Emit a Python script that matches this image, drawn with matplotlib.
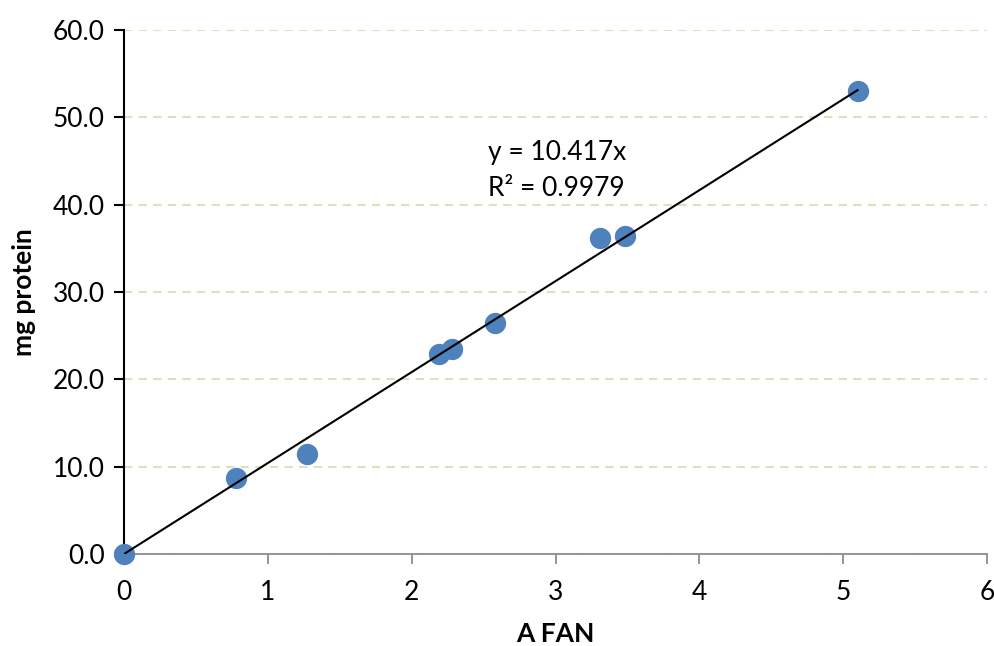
import matplotlib.pyplot as plt

# data
a_fan = [0, 0.78, 1.27, 2.19, 2.28, 2.58, 3.31, 3.48, 5.10]
mg_protein = [0.0, 8.7, 11.45, 22.9, 23.45, 26.4, 36.2, 36.4, 53.0]
slope = 10.417
r2 = 0.9979

plt.rcParams['font.family'] = ['Lato', 'DejaVu Sans']

fig = plt.figure(figsize=(9.95, 6.46), dpi=100)
ax = fig.add_axes([0.1246, 0.1424, 0.8674, 0.811])

ax.set_xlim(0, 6)
ax.set_ylim(0, 60)
ax.set_yticks(range(0, 61, 10))
ax.set_yticklabels([f'{v:.1f}' for v in range(0, 61, 10)])
ax.set_xticks(range(0, 7))

ax.grid(axis='y', color='#D7E4BD', linestyle=(0, (4, 3)), linewidth=1.5)
ax.set_axisbelow(True)

ax.scatter(a_fan, mg_protein, s=205, color='#4F81BD', zorder=3, clip_on=False)
xs = [0, max(a_fan)]
ax.plot(xs, [slope * x for x in xs], color='black', linewidth=1.5, zorder=4)

# trendline equation
ax.text(2.53, 46.0, f'y = {slope}x', fontsize=19, va='center', ha='left')
ax.text(2.53, 41.9, f'R² = {r2}', fontsize=19, va='center', ha='left')

for s in ['top', 'right']:
    ax.spines[s].set_visible(False)
ax.spines['left'].set_color('black')
ax.spines['left'].set_linewidth(1.5)
ax.spines['bottom'].set_color('#8C8C8C')
ax.spines['bottom'].set_linewidth(1.3)
ax.tick_params(axis='y', direction='out', length=7, width=1.5, colors='black',
               labelsize=19, pad=7)
ax.tick_params(axis='x', direction='out', length=7, width=1.3, color='#8C8C8C',
               labelcolor='black', labelsize=19, pad=12)

ax.set_xlabel('A FAN', fontsize=19, fontweight='bold', labelpad=12)
ax.set_ylabel('mg protein', fontsize=19, fontweight='bold', labelpad=12)

fig.savefig('out.png', dpi=100)
